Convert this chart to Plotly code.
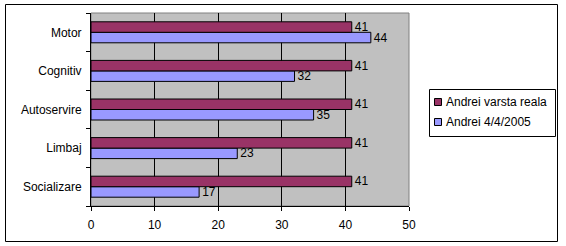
import plotly.graph_objects as go

categories = ["Socializare", "Limbaj", "Autoservire", "Cognitiv", "Motor"]
series_real_name = "Andrei varsta reala"
series_real = [41, 41, 41, 41, 41]
series_2005_name = "Andrei 4/4/2005"
series_2005 = [17, 23, 35, 32, 44]
x_ticks = [0, 10, 20, 30, 40, 50]

COLOR_REAL = "#993366"
COLOR_2005 = "#9999FF"
FONT = "Liberation Sans, Arial, sans-serif"
FS = 12
W, H = 566, 246
L, R, T, B = 91, 157, 13, 40
pw, ph = W - L - R, H - T - B

fig = go.Figure()
fig.add_trace(go.Bar(
    y=categories, x=series_2005, orientation="h", name=series_2005_name,
    marker=dict(color=COLOR_2005, line=dict(color="black", width=1)),
    text=series_2005, textposition="outside", constraintext="none", cliponaxis=False,
    textfont=dict(color="black", size=FS, family=FONT), showlegend=False,
))
fig.add_trace(go.Bar(
    y=categories, x=series_real, orientation="h", name=series_real_name,
    marker=dict(color=COLOR_REAL, line=dict(color="black", width=1)),
    text=series_real, textposition="outside", constraintext="none", cliponaxis=False,
    textfont=dict(color="black", size=FS, family=FONT), showlegend=False,
))

def px_x(px):
    return (px - L) / pw

def px_y(py):
    return (H - B - py) / ph

shapes = [
    dict(type="rect", xref="paper", yref="paper", x0=0, x1=1, y0=0, y1=1,
         line=dict(color="#808080", width=1), layer="below"),
    dict(type="rect", xref="paper", yref="paper",
         x0=px_x(5.5), x1=px_x(557.5), y0=px_y(241.5), y1=px_y(4.5),
         line=dict(color="black", width=1), layer="below"),
    # legend box
    dict(type="rect", xref="paper", yref="paper",
         x0=px_x(429.5), x1=px_x(555.5), y0=px_y(136.5), y1=px_y(89.5),
         line=dict(color="black", width=1), fillcolor="white", layer="above"),
]
annotations = []
legend_items = [(series_real_name, COLOR_REAL, 102), (series_2005_name, COLOR_2005, 122)]
for name, col, cy in legend_items:
    shapes.append(dict(type="rect", xref="paper", yref="paper",
                       x0=px_x(434.5), x1=px_x(441.5), y0=px_y(cy + 3.5), y1=px_y(cy - 3.5),
                       line=dict(color="black", width=1), fillcolor=col, layer="above"))
    annotations.append(dict(text=name, xref="paper", yref="paper", x=px_x(444), y=px_y(cy),
                            xanchor="left", yanchor="middle", showarrow=False,
                            font=dict(family=FONT, size=FS, color="black")))

fig.update_layout(
    width=W, height=H,
    margin=dict(l=L, r=R, t=T, b=B, pad=0),
    paper_bgcolor="white", plot_bgcolor="#C0C0C0",
    font=dict(family=FONT, size=FS, color="black"),
    barmode="group", bargap=0.456, bargroupgap=0,
    showlegend=False,
    xaxis=dict(range=[0, 50], tickvals=x_ticks, showgrid=True, gridcolor="black", gridwidth=1,
               zeroline=False, showline=True, linecolor="black", linewidth=1,
               ticks="outside", ticklen=4, tickcolor="black", fixedrange=True,
               ticklabelstandoff=4),
    yaxis=dict(showgrid=False, zeroline=False, showline=True, linecolor="black", linewidth=1,
               ticks="outside", ticklen=4, tickcolor="black", tickson="boundaries",
               ticklabelstandoff=6, fixedrange=True),
    shapes=shapes,
    annotations=annotations,
)

fig.write_html("out.html")
